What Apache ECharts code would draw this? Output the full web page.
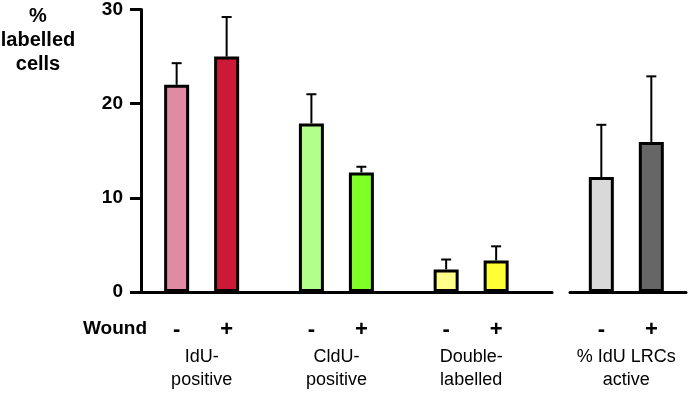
<!DOCTYPE html>
<html>
<head>
<meta charset="utf-8">
<script src="https://cdn.jsdelivr.net/npm/echarts@6/dist/echarts.min.js"></script>
<style>
  html, body { margin: 0; padding: 0; background: #fff; }
  #chart { width: 689px; height: 403px; }
</style>
</head>
<body>
<div id="chart"></div>
<script>
// groups along the x axis, the last one sits on its own axis segment
const groups = ["IdU-\npositive", "CldU-\npositive", "Double-\nlabelled", "% IdU LRCs\nactive"];
const woundLevels = ["-", "+"];

// % labelled cells, unwounded (-) and wounded (+)
const unwounded = [22.0, 17.9, 2.4, 12.1];
const wounded = [25.0, 12.7, 3.35, 15.8];
// upper error bar length
const unwoundedErr = [2.3, 3.1, 1.05, 5.5];
const woundedErr = [4.2, 0.6, 1.5, 6.9];

const unwoundedColors = ["#e08ba4", "#b3ff8c", "#ffff8c", "#d9d9d9"];
const woundedColors = ["#cc1a36", "#80ff26", "#ffff33", "#666666"];

const yTicks = [0, 10, 20, 30];

const chart = echarts.init(document.getElementById("chart"));

const BAR_W = 25;
const BAR_STEP = 50;
const CAP = 5;
const FONT = "'Liberation Sans', Arial, sans-serif";

function barData(values, colors, idx) {
  return idx.map((i) => ({ value: [i, values[i]], itemStyle: { color: colors[i] } }));
}

function errData(values, errs, idx) {
  return idx.map((i) => [i, values[i], errs[i]]);
}

function errorBars(data, offset, axisIndex) {
  return {
    type: "custom",
    xAxisIndex: axisIndex,
    yAxisIndex: axisIndex,
    z: 5,
    data: data,
    renderItem: (params, api) => {
      const x = api.value(0);
      const mean = api.value(1);
      const err = api.value(2);
      const base = api.coord([x, mean]);
      const top = api.coord([x, mean + err]);
      const cx = base[0] + offset;
      const style = { stroke: "#000", lineWidth: 2 };
      return {
        type: "group",
        children: [
          { type: "line", shape: { x1: cx, y1: base[1], x2: cx, y2: top[1] }, style },
          { type: "line", shape: { x1: cx - CAP, y1: top[1], x2: cx + CAP, y2: top[1] }, style },
        ],
      };
    },
  };
}

function bars(name, data, axisIndex) {
  return {
    name: name,
    type: "bar",
    xAxisIndex: axisIndex,
    yAxisIndex: axisIndex,
    barWidth: BAR_W,
    barGap: ((BAR_STEP - BAR_W) / BAR_W) * 100 + "%",
    data: data,
    itemStyle: { borderColor: "#000", borderWidth: 3 },
    label: {
      show: true,
      position: "bottom",
      distance: 27,
      formatter: () => name,
      color: "#000",
      fontSize: 22,
      fontWeight: "bold",
      fontFamily: FONT,
    },
  };
}

const left = [0, 1, 2];
const right = [3];

const xLabel = {
  formatter: (v) => groups[Math.round(v)] || "",
  color: "#000",
  fontSize: 18,
  lineHeight: 23,
  fontFamily: FONT,
  margin: 54,
};

function yAxis(gridIndex, show) {
  return {
    type: "value",
    gridIndex: gridIndex,
    min: 0,
    max: 30,
    interval: 10,
    show: show,
    splitLine: { show: false },
    axisLine: { show: true, onZero: false, lineStyle: { color: "#000", width: 3 } },
    axisTick: { show: true, length: 11, lineStyle: { color: "#000", width: 3 } },
    axisLabel: {
      color: "#000",
      fontSize: 19,
      fontWeight: "bold",
      fontFamily: FONT,
      margin: 18,
      customValues: yTicks,
    },
  };
}

function xAxis(gridIndex, min, max, values) {
  return {
    type: "value",
    gridIndex: gridIndex,
    min: min,
    max: max,
    splitLine: { show: false },
    axisLine: { show: true, onZero: false, lineStyle: { color: "#000", width: 3 } },
    axisTick: { show: false },
    axisLabel: Object.assign({}, xLabel, { customValues: values }),
  };
}

chart.setOption({
  animation: false,
  backgroundColor: "#fff",
  grid: [
    { left: 141, width: 411, top: 7, height: 285 },
    { left: 570, width: 116, top: 7, height: 285 },
  ],
  xAxis: [xAxis(0, -0.45, 2.6, left), xAxis(1, 2.58, 3.445, right)],
  yAxis: [yAxis(0, true), yAxis(1, false)],
  graphic: [
    {
      type: "text",
      x: 38,
      y: 4,
      style: {
        text: "%\nlabelled\ncells",
        align: "center",
        verticalAlign: "top",
        lineHeight: 24,
        font: "bold 20px " + FONT,
        fill: "#000",
      },
    },
    {
      type: "text",
      x: 115,
      y: 329,
      style: {
        text: "Wound",
        align: "center",
        verticalAlign: "middle",
        font: "bold 19px " + FONT,
        fill: "#000",
      },
    },
  ],
  series: [
    bars(woundLevels[0], barData(unwounded, unwoundedColors, left), 0),
    bars(woundLevels[1], barData(wounded, woundedColors, left), 0),
    bars(woundLevels[0], barData(unwounded, unwoundedColors, right), 1),
    bars(woundLevels[1], barData(wounded, woundedColors, right), 1),
    errorBars(errData(unwounded, unwoundedErr, left), -BAR_STEP / 2, 0),
    errorBars(errData(wounded, woundedErr, left), BAR_STEP / 2, 0),
    errorBars(errData(unwounded, unwoundedErr, right), -BAR_STEP / 2, 1),
    errorBars(errData(wounded, woundedErr, right), BAR_STEP / 2, 1),
  ],
});
</script>
</body>
</html>
